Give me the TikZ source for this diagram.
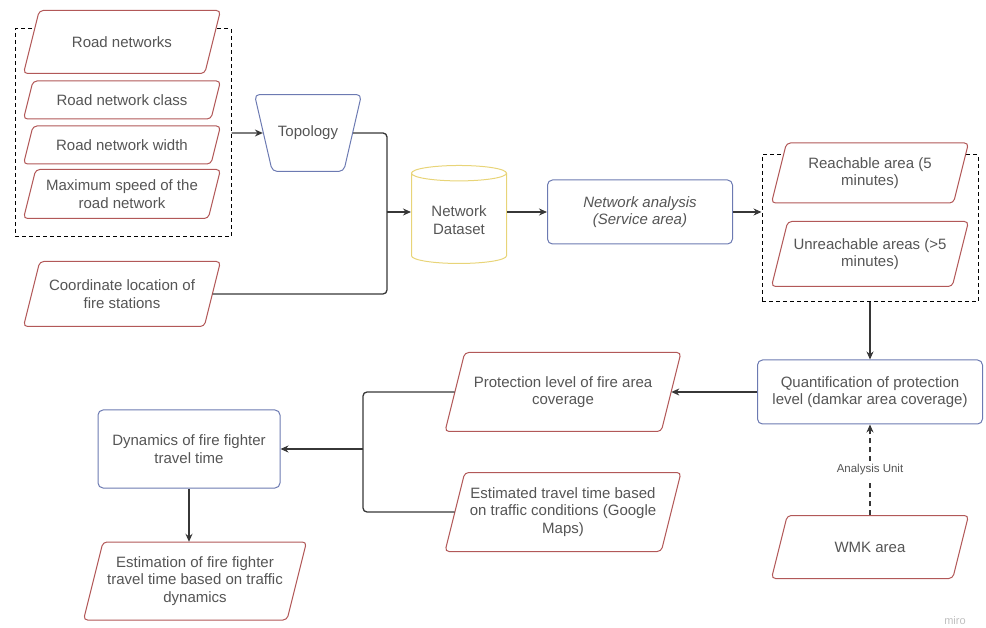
\documentclass[tikz,border=0pt]{standalone}
\usepackage{fontspec}
\setmainfont{Liberation Sans}
\usepackage{tikz}
\usepackage{xcolor}
\usetikzlibrary{arrows.meta,calc,positioning,shapes.geometric}
\definecolor{txtgray}{RGB}{85,85,85}
\definecolor{linegray}{RGB}{55,55,55}
\definecolor{parared}{RGB}{178,88,88}
\definecolor{boxblue}{RGB}{108,122,178}
\definecolor{cylyellow}{RGB}{232,212,120}
% data item: name, centre, width, height, text
\newcommand{\dataitem}[5]{%
  \filldraw[datashape,shift={(#2)}] (-#3/2,#4/2) -- (#3/2-#4/4,#4/2) -- (#3/2,-#4/2) -- (-#3/2+#4/4,-#4/2) -- cycle;
  \node[minimum width=#3-#4/4,minimum height=#4,inner sep=1pt] (#1) at (#2) {#5};}

\begin{document}
\begin{tikzpicture}[x=1pt,y=-1pt,>={Stealth[length=8pt,width=7pt]},
  every node/.style={text=txtgray,font=\fontsize{15}{17.5}\selectfont,align=center},
  datashape/.style={draw=parared,fill=white,line width=1pt,rounded corners=4pt},
  procbox/.style={rectangle,draw=boxblue,fill=white,line width=1pt,rounded corners=5pt},
  groupbox/.style={rectangle,draw=black,line width=1pt,dash pattern=on 4pt off 3pt},
  conn/.style={->,draw=linegray,line width=1.3pt},
  link/.style={draw=linegray,line width=1.3pt,rounded corners=4pt}]
  \useasboundingbox (0,0) rectangle (986,628);
  % input data
  \node[groupbox,minimum width=216,minimum height=208] (inputs) at (123,133) {};
  \dataitem{roadnet}{122,42}{197}{63}{Road networks}
  \dataitem{roadclass}{122,100}{197}{38}{Road network class}
  \dataitem{roadwidth}{122,145}{197}{38}{Road network width}
  \dataitem{maxspeed}{122,194}{197}{49}{Maximum speed of the\\road network}
  \dataitem{firestat}{122,294}{197}{65}{Coordinate location of\\fire stations}
  \node[trapezium,trapezium left angle=103,trapezium right angle=103,trapezium stretches body,
    draw=boxblue,line width=1pt,rounded corners=5pt,minimum width=107,inner ysep=31.5pt] (topo) at (308,133) {Topology};
  \node[cylinder,shape border rotate=90,aspect=0.25,draw=cylyellow,line width=1pt,
    minimum width=95,minimum height=98] (netdata) at (459,220) {Network\\Dataset};
  \node[procbox,minimum width=185,minimum height=64,font=\fontsize{15}{17.5}\selectfont\itshape] (analysis) at (640,212) {Network analysis\\(Service area)};
  % service area result
  \node[groupbox,minimum width=216,minimum height=147] (areas) at (870,228.5) {};
  \dataitem{reach}{870,173}{197}{60}{Reachable area (5\\minutes)}
  \dataitem{unreach}{870,254}{197}{65}{Unreachable areas (>5\\minutes)}
  \node[procbox,minimum width=225,minimum height=64] (quant) at (870,392) {Quantification of protection\\level (damkar area coverage)};
  \dataitem{wmk}{870,547}{197}{63}{WMK area}
  \dataitem{protect}{563,392}{236}{79}{Protection level of fire area\\coverage}
  \dataitem{esttime}{563,512}{236}{79}{Estimated travel time based\\on traffic conditions (Google\\Maps)}
  \node[procbox,minimum width=182,minimum height=78] (dynamics) at (189,449) {Dynamics of fire fighter\\travel time};
  \dataitem{estfight}{195,581}{223}{78}{Estimation of fire fighter\\travel time based on traffic\\dynamics}
  \node[text=black!25,font=\fontsize{11}{13}\selectfont] (miro) at (955,621) {miro};
  % connectors
  \coordinate (join) at (387,212);
  \coordinate (split) at (363,449);
  \draw[conn] (inputs.east) -- (topo.west);
  \draw[link] (topo.east) -| (join);
  \draw[link] (firestat.east) -| (join);
  \draw[conn] (join) -- (join -| netdata.west);
  \draw[conn] (netdata.east |- join) -- (analysis.west);
  \draw[conn] (analysis.east) -- (analysis.east -| areas.west);
  \draw[conn] (areas.south) -- (quant.north);
  \draw[conn] (quant.west) -- (protect.east);
  \draw[link] (protect.west) -| (split);
  \draw[link] (esttime.west) -| (split);
  \draw[conn] (split) -- (dynamics.east);
  \draw[conn] (dynamics.south) -- (dynamics.south |- estfight.north);
  \draw[conn,dash pattern=on 5pt off 4pt] (wmk.north) -- node[fill=white,font=\fontsize{11.5}{13}\selectfont]{Analysis Unit} (quant.south);
\end{tikzpicture}
\end{document}
